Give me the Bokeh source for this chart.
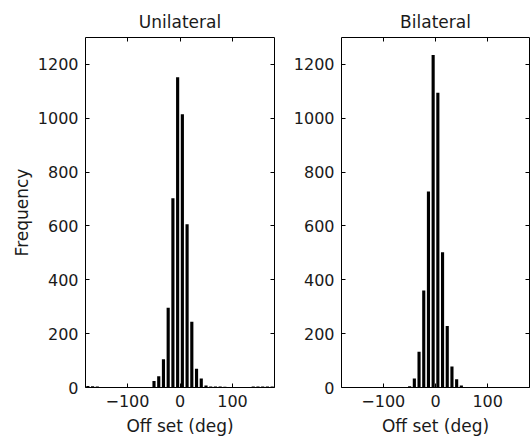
from bokeh.plotting import figure
from bokeh.layouts import row
from bokeh.models import Range1d, FixedTicker, LinearAxis
from bokeh.embed import file_html
from bokeh.resources import INLINE

# Histogram bin centres (deg) and counts
uni_centers = [-175.5, -166.5, -157.5, -49.5, -40.5, -31.5, -22.5, -13.5, -4.5, 4.5,
               13.5, 22.5, 31.5, 40.5, 49.5, 58.5, 67.5, 76.5, 85.5,
               139.5, 148.5, 157.5, 166.5, 175.5]
uni_counts = [6, 5, 4, 24, 42, 105, 296, 703, 1152, 1015,
              606, 244, 70, 33, 7, 4, 4, 4, 3,
              4, 4, 4, 4, 4]

bi_centers = [-49.5, -40.5, -31.5, -22.5, -13.5, -4.5, 4.5, 13.5, 22.5, 31.5, 40.5, 49.5]
bi_counts = [5, 33, 133, 360, 728, 1235, 1095, 502, 228, 78, 31, 7]

x_ticks = [-100, 0, 100]
y_ticks = [0, 200, 400, 600, 800, 1000, 1200]

FONT = "DejaVu Sans"
TXT = "#1a1a1a"


def make_panel(title, centers, counts, width, bl, br, ylabel=None):
    p = figure(width=width, height=438, output_backend="svg", toolbar_location=None,
               x_range=Range1d(-180, 180), y_range=Range1d(0, 1300),
               min_border_left=bl, min_border_right=br,
               min_border_top=37, min_border_bottom=50,
               x_axis_location=None, y_axis_location=None)
    p.title.text = title
    p.title.align = "center"
    p.title.text_font = FONT
    p.title.text_font_size = "17px"
    p.title.text_font_style = "normal"
    p.title.text_color = TXT
    p.title.standoff = 11
    p.grid.visible = False
    p.outline_line_color = None
    p.background_fill_color = "white"
    p.border_fill_color = "white"

    p.vbar(x=centers, top=counts, width=6, fill_color="black", line_color=None)

    def style(ax, labels=True):
        ax.major_tick_in = 4
        ax.major_tick_out = 0
        ax.minor_tick_in = 0
        ax.minor_tick_out = 0
        ax.axis_line_color = "black"
        ax.major_tick_line_color = "black"
        if labels:
            ax.major_label_text_font = FONT
            ax.major_label_text_font_size = "16px"
            ax.major_label_text_color = TXT
            ax.major_label_standoff = 7
        else:
            ax.major_label_text_font_size = "1px"
            ax.major_label_text_color = None
            ax.major_label_standoff = 0

    xb = LinearAxis(ticker=FixedTicker(ticks=x_ticks))
    style(xb)
    xb.axis_label = "Off set (deg)"
    xb.axis_label_text_font = FONT
    xb.axis_label_text_font_size = "17px"
    xb.axis_label_text_font_style = "normal"
    xb.axis_label_text_color = TXT
    xb.axis_label_standoff = 6
    p.add_layout(xb, "below")

    xt = LinearAxis(ticker=FixedTicker(ticks=x_ticks))
    style(xt, labels=False)
    p.add_layout(xt, "above")

    yl = LinearAxis(ticker=FixedTicker(ticks=y_ticks))
    style(yl)
    if ylabel:
        yl.axis_label = ylabel
        yl.axis_label_text_font = FONT
        yl.axis_label_text_font_size = "17px"
        yl.axis_label_text_font_style = "normal"
        yl.axis_label_text_color = TXT
        yl.axis_label_standoff = 3
    p.add_layout(yl, "left")

    yr = LinearAxis(ticker=FixedTicker(ticks=y_ticks))
    style(yr, labels=False)
    p.add_layout(yr, "right")
    return p


p1 = make_panel("Unilateral", uni_centers, uni_counts, 290, 85, 16, ylabel="Frequency")
p2 = make_panel("Bilateral", bi_centers, bi_counts, 242, 48, 3)

layout = row(p1, p2)
open("out.html", "w").write(file_html(layout, INLINE))
